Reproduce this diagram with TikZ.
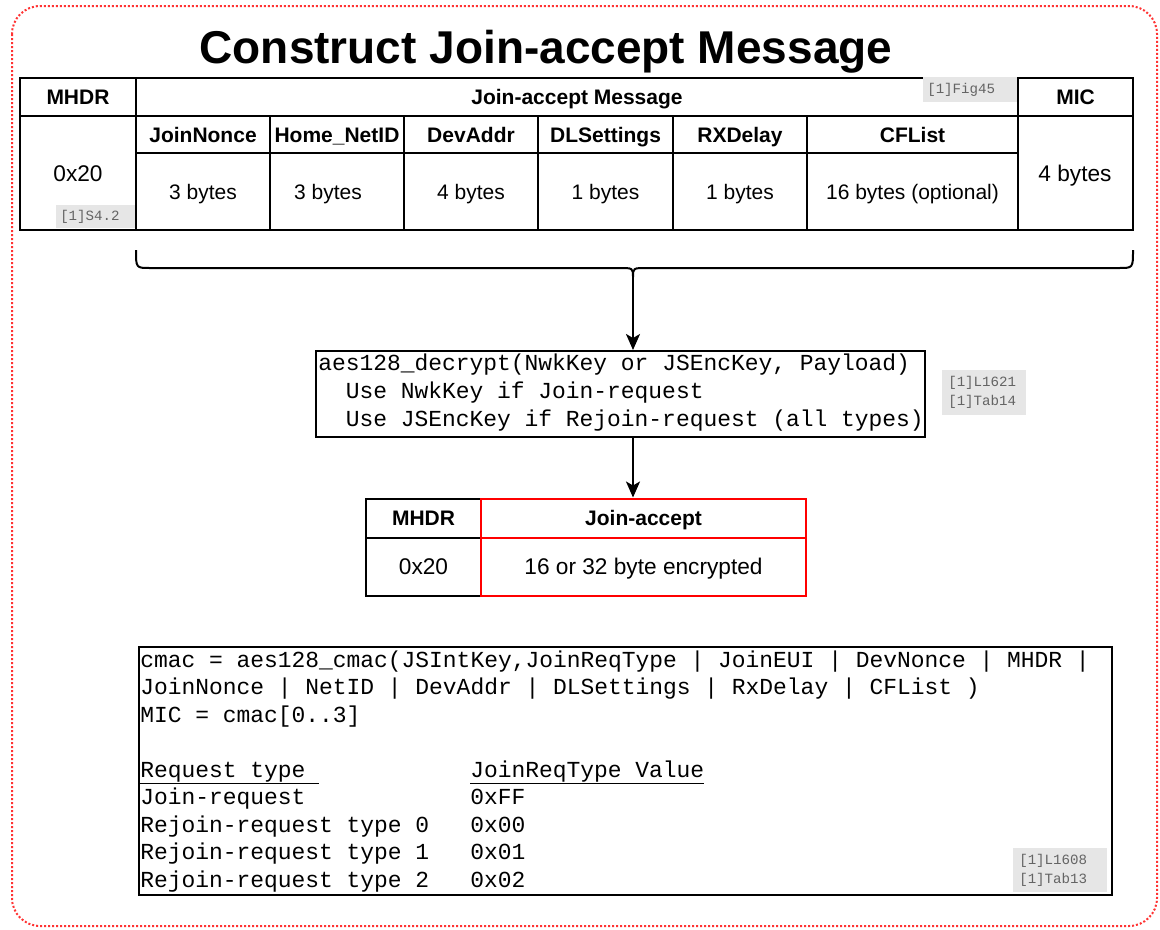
\documentclass[tikz,border=0pt]{standalone}
\usepackage{fontspec}
\setmainfont{Liberation Sans}
\newfontfamily\codefont{Liberation Mono}
\usetikzlibrary{arrows.meta}
\newdimen\pxu \pxu=0.75pt
\definecolor{framered}{RGB}{255,51,51}
\definecolor{taggray}{RGB}{230,230,230}
\definecolor{tagtext}{RGB}{100,100,100}
\newcommand\mkcell[7]{%
  \node[#1, minimum width={(#5-#3)*0.75pt}, minimum height={(#6-#4)*0.75pt}] (#2) at ({(#3+#5)/2},{(#4+#6)/2}) {#7};}
\begin{document}
\begin{tikzpicture}[x=0.75pt,y=-0.75pt,
  cell/.style={draw=black, line width=1.5pt, inner sep=0pt, text height=11.3pt, text depth=0pt, font=\fontsize{15.75}{18}\selectfont},
  hcell/.style={cell, font=\fontsize{15.75}{18}\selectfont\bfseries},
  bigcell/.style={cell, text height=12.2pt, text depth=0pt, font=\fontsize{17}{20}\selectfont},
  redcell/.style={bigcell, draw=red},
  redhcell/.style={hcell, draw=red},
  txt/.style={inner sep=0pt, text height=12.2pt, text depth=0pt, font=\fontsize{17}{20}\selectfont},
  code/.style={anchor=base west, inner sep=0pt, font=\codefont\fontsize{17.2}{20.6}\selectfont\frenchspacing},
  tag/.style={fill=taggray, text=tagtext, inner ysep=0pt, anchor=north west, align=left, font=\codefont\fontsize{10.6}{14.25}\selectfont},
  box/.style={draw=black, line width=1.5pt, inner sep=0pt},
  arr/.style={-{Stealth[length=12pt,width=10.5pt,inset=3pt]}, line width=1.5pt}
]
\useasboundingbox (0,0) rectangle (1160,929);
% outer frame
\draw[framered, line width=1.5pt, dash pattern=on 1.5pt off 1.5pt, rounded corners=21pt] (12,6) rectangle (1157,926);
% title
\node[anchor=base, inner sep=0pt, font=\fontsize{34.5}{40}\selectfont\bfseries] (title) at (546,63) {Construct Join-accept Message};
% main table
\mkcell{hcell}{mhdrH}{20}{77.5}{136}{116}{MHDR}
\mkcell{hcell}{jamH}{136}{77.5}{1018}{116}{Join-accept Message}
\mkcell{hcell}{micH}{1018}{77.5}{1133}{116}{MIC}
\mkcell{cell}{mhdrV}{20}{116}{136}{230}{}
\node[txt] (v0x20) at (78,173) {0x20};
\mkcell{cell}{micV}{1018}{116}{1133}{230}{}
\node[txt] (v4b) at (1075,173) {4 bytes};
\mkcell{hcell}{h1}{136}{116}{270}{153}{JoinNonce}
\mkcell{hcell}{h2}{270}{116}{404}{153}{Home\_NetID}
\mkcell{hcell}{h3}{404}{116}{538}{153}{DevAddr}
\mkcell{hcell}{h4}{538}{116}{673}{153}{DLSettings}
\mkcell{hcell}{h5}{673}{116}{807}{153}{RXDelay}
\mkcell{hcell}{h6}{807}{116}{1018}{153}{CFList}
\mkcell{cell}{c1}{136}{153}{270}{230}{3 bytes}
\mkcell{cell}{c2}{270}{153}{404}{230}{}
\node[txt, font=\fontsize{15.75}{18}\selectfont, text height=11.3pt, text depth=0pt] (c2t) at (328,191.5) {3 bytes};
\mkcell{cell}{c3}{404}{153}{538}{230}{4 bytes}
\mkcell{cell}{c4}{538}{153}{673}{230}{1 bytes}
\mkcell{cell}{c5}{673}{153}{807}{230}{1 bytes}
\mkcell{cell}{c6}{807}{153}{1018}{230}{16 bytes (optional)}
% tags on table
\node[tag, text width=86\pxu, inner xsep=4\pxu, minimum height=25\pxu] (tFig) at (923,77) {[1]Fig45};
\node[tag, text width=71\pxu, inner xsep=4\pxu, minimum height=23\pxu] (tS42) at (56,205) {[1]S4.2};
% brace
\coordinate (btip) at (633,277);
\draw[line width=1.5pt] (136,250) .. controls (136,268) and (136,268) .. (150,268) -- (619,268)
  .. controls (633,268) and (633,268) .. (btip) .. controls (633,268) and (633,268) .. (647,268)
  -- (1119,268) .. controls (1133,268) and (1133,268) .. (1133,250);
% decrypt box
\mkcell{box}{dec}{316}{351}{925}{437}{}
\node[code] (d1) at (318,370) {aes128\_decrypt(NwkKey or JSEncKey, Payload)};
\node[code] (d2) at (345.5,398) {Use NwkKey if Join-request};
\node[code] (d3) at (345.5,426) {Use JSEncKey if Rejoin-request (all types)};
\node[tag, text width=72\pxu, inner xsep=6\pxu, minimum height=45\pxu] (tL1621) at (942,370) {[1]L1621\\{[1]Tab14}};
% small table
\mkcell{hcell}{smH}{366}{498.5}{481}{537.5}{MHDR}
\mkcell{bigcell}{smV}{366}{537.5}{481}{596}{0x20}
\mkcell{redhcell}{saH}{481}{498.5}{806}{537.5}{Join-accept}
\mkcell{redcell}{saV}{481}{537.5}{806}{596}{16 or 32 byte encrypted}
% arrows
\draw[arr] (btip) -- (btip |- dec.north);
\draw[arr] (btip |- dec.south) -- (btip |- saH.north);
% code box
\mkcell{box}{cbox}{138.5}{647}{1112}{895}{}
\node[code] (l1) at (140,667) {cmac = aes128\_cmac(JSIntKey,JoinReqType | JoinEUI | DevNonce | MHDR |};
\node[code] (l2) at (140,694.5) {JoinNonce | NetID | DevAddr | DLSettings | RxDelay | CFList )};
\node[code] (l3) at (140,722) {MIC = cmac[0..3]};
\node[code] (r0a) at (140,777) {\underline{Request type~}};
\node[code] (r0b) at (470,777) {\underline{JoinReqType Value}};
\node[code] (r1a) at (140,804.5) {Join-request};
\node[code] (r1b) at (470,804.5) {0xFF};
\node[code] (r2a) at (140,832) {Rejoin-request type 0};
\node[code] (r2b) at (470,832) {0x00};
\node[code] (r3a) at (140,859.5) {Rejoin-request type 1};
\node[code] (r3b) at (470,859.5) {0x01};
\node[code] (r4a) at (140,887) {Rejoin-request type 2};
\node[code] (r4b) at (470,887) {0x02};
\node[tag, text width=82\pxu, inner xsep=6\pxu, minimum height=44\pxu] (tL1608) at (1013,848) {[1]L1608\\{[1]Tab13}};
\end{tikzpicture}
\end{document}
